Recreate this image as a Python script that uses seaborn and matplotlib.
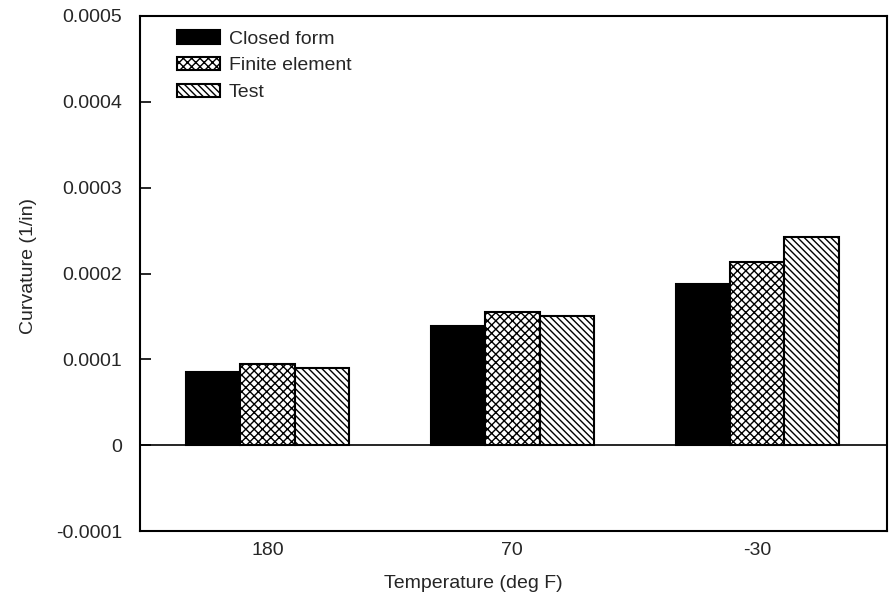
import matplotlib
matplotlib.use("Agg")
import matplotlib.pyplot as plt
import matplotlib.patches as mpatches
import seaborn as sns
import pandas as pd

temperatures = ["180", "70", "-30"]
methods = ["Closed form", "Finite element", "Test"]
closed_form = [0.000085, 0.000139, 0.000188]
finite_element = [0.000095, 0.000155, 0.000213]
test = [0.000090, 0.000151, 0.000242]
ytick_values = [-0.0001, 0, 0.0001, 0.0002, 0.0003, 0.0004, 0.0005]
ytick_labels = ["-0.0001", "0", "0.0001", "0.0002", "0.0003", "0.0004", "0.0005"]

rows = []
for name, vals in zip(methods, [closed_form, finite_element, test]):
    for t, v in zip(temperatures, vals):
        rows.append({"Temperature": t, "Curvature": v, "Method": name})
df = pd.DataFrame(rows)

sns.set_theme(style="white")
plt.rcParams["font.family"] = ["Liberation Sans", "DejaVu Sans"]
plt.rcParams["hatch.linewidth"] = 1.0
plt.rcParams["ytick.direction"] = "in"
plt.rcParams["ytick.left"] = True

fig = plt.figure(figsize=(8.92, 6.01), dpi=100)
ax = fig.add_axes([140/892, 1-531/601, (887-140)/892, (531-16)/601])

fills = ["black", "white", "white"]
hatches = ["", "xxxx", "\\\\\\\\\\"]
sns.barplot(data=df, x="Temperature", y="Curvature", hue="Method",
            order=temperatures, hue_order=methods, palette=fills,
            edgecolor="black", linewidth=1.5, width=0.667, legend=False,
            saturation=1, ax=ax)
for cont, h in zip(ax.containers, hatches):
    for bar in cont:
        bar.set_hatch(h)

ax.axhline(0, color="black", lw=1.2)
ax.set_ylim(-0.0001, 0.0005)
ax.set_xlim(-0.52, 2.53)
ax.set_yticks(ytick_values)
ax.set_yticklabels(ytick_labels)
ax.tick_params(axis="y", direction="in", length=8, width=1.2, color="black",
               labelsize=14, pad=13, left=True)
ax.tick_params(axis="x", length=0, labelsize=14, pad=8)
for s in ax.spines.values():
    s.set_color("black")
    s.set_linewidth(1.5)
ax.set_xlabel("Temperature (deg F)", fontsize=14)
ax.set_ylabel("Curvature (1/in)", fontsize=14)
ax.xaxis.set_label_coords(0.446, -0.085)
ax.yaxis.set_label_coords(-0.138, 0.515)

handles = [mpatches.Patch(facecolor=f, edgecolor="black", hatch=h, label=m, linewidth=1.5)
           for f, h, m in zip(fills, hatches, methods)]
ax.legend(handles=handles, loc="upper left", bbox_to_anchor=(0.0495, 0.973),
          frameon=False, borderpad=0, borderaxespad=0, fontsize=14,
          handlelength=2.2, handleheight=0.7, handletextpad=0.45, labelspacing=0.48)

fig.savefig("out.png", dpi=100)
